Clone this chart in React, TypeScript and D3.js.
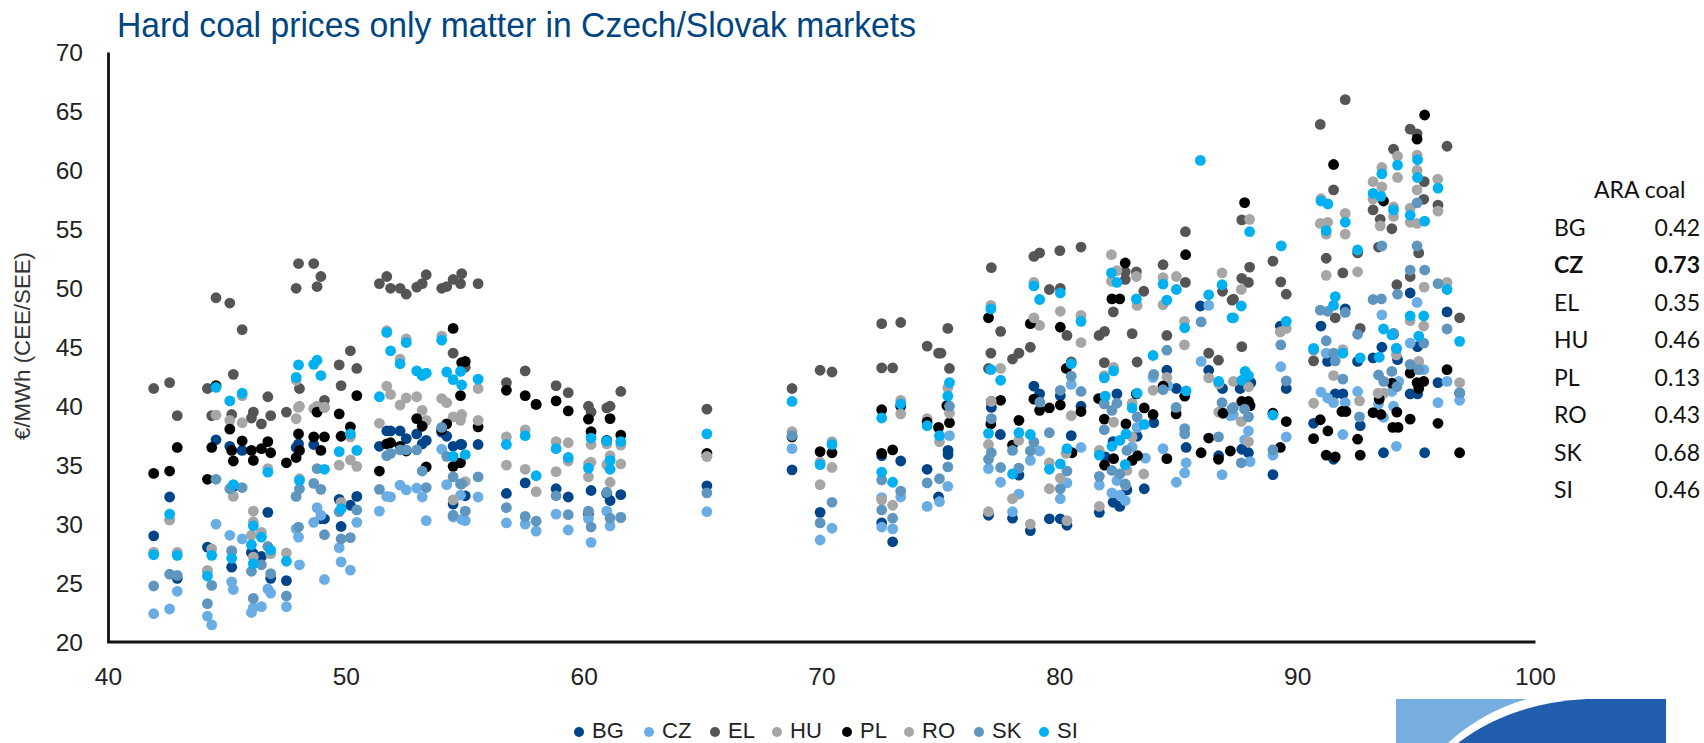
import React from "react";
import * as d3 from "d3";

const title = "Hard coal prices only matter in Czech/Slovak markets";
const yLabel = "€/MWh (CEE/SEE)";
const xTicks = [40, 50, 60, 70, 80, 90, 100];
const yTicks = [20, 25, 30, 35, 40, 45, 50, 55, 60, 65, 70];
const tableHeader = "ARA coal";
const tableNames = ["BG", "CZ", "EL", "HU", "PL", "RO", "SK", "SI"];
const tableValues = ["0.42", "0.73", "0.35", "0.46", "0.13", "0.43", "0.68", "0.46"];

const BG = [[41.9,29],[42.57,32.3],[42.89,25.4],[44.16,28.05],[44.52,37.15],[45.1,36.6],[45.18,26.35],[45.25,33.2],[45.62,36.25],[46.01,27.6],[46.09,27.5],[46.43,27.25],[46.7,31],[46.82,25.4],[47.48,25.2],[47.89,36.5],[47.99,36.8],[48.63,36.75],[48.93,30.45],[49.08,30.45],[49.7,32.1],[49.78,29.8],[50.17,31.6],[50.44,32.35],[51.39,36.6],[51.7,37.9],[51.86,37.9],[52.26,37.9],[52.52,37.25],[52.96,37.65],[53.19,36.8],[53.36,37.1],[54.01,37.8],[54.22,37.45],[54.49,36.6],[54.49,31.7],[54.8,36.75],[54.85,36.75],[55,32.4],[55.54,36.75],[56.73,32.6],[57.52,33.5],[58.82,33],[59.33,32.3],[60.18,30.85],[60.29,32.85],[60.95,32.6],[61.09,32],[61.54,32.5],[65.16,33.25],[68.74,34.6],[69.92,31],[72.51,35.8],[72.51,30.1],[72.97,28.5],[73.31,35.35],[74.42,34.65],[75.3,36.25],[75.3,35.9],[74.9,32.3],[77.12,39.9],[77,30.75],[77.5,37.6],[78.01,30.5],[78.28,34.15],[78.76,29.45],[78.91,41.7],[79.15,41.05],[79.56,30.45],[80.02,40.9],[80.02,30.45],[80.3,29.9],[80.89,40],[80.48,37.5],[81.66,31],[82.4,41.05],[81.91,35.7],[82.24,37],[82.24,31.85],[82.52,31.5],[82.82,32.9],[83.25,37.45],[83.55,33],[83.95,38.6],[84.5,43.05],[84.9,41.5],[85.31,36.5],[85.91,48.5],[86.26,43.05],[86.68,35.8],[86.84,41.5],[87.65,36.35],[87.93,36.05],[88.03,42],[87.58,41.5],[89.27,46.8],[89.52,41.5],[88.96,34.2],[90.67,38.55],[90.98,46.8],[91.26,43.8],[91.51,35.5],[91.58,41.05],[91.9,41.05],[92,48.25],[92.52,43.8],[92.63,38.35],[93.17,44.1],[93.54,45],[94.2,43.95],[94.03,46.1],[93.61,36.05],[94.73,49.6],[94.73,41.05],[95.04,41.05],[95.04,45.05],[95.9,42],[96.28,48],[95.34,36.05],[96.81,41.1]];

const CZ = [[41.9,22.4],[42.57,22.8],[42.89,24.3],[44.16,22.2],[44.34,21.45],[44.52,30],[45.1,29.05],[45.18,25.1],[45.25,24.45],[45.62,28.75],[46.01,22.5],[46.09,22.9],[46.43,23],[46.7,24.5],[46.82,24.15],[47.48,23],[47.89,29.6],[47.99,28.9],[48.03,26.55],[48.63,30.15],[48.77,31.4],[48.93,30.75],[49.08,25.3],[49.7,28],[49.78,26.8],[50.17,26.1],[50.44,30.15],[51.39,31.1],[51.7,32.35],[51.86,32.3],[52.26,33.3],[52.52,32.9],[52.96,33.05],[53.19,32.3],[53.36,30.3],[54.01,36.35],[54.22,33.35],[54.49,30.6],[54.8,32.45],[54.85,30.4],[55,30.3],[55.54,32.3],[56.73,30.1],[57.52,30],[57.98,29.4],[58.82,30.85],[59.33,29.5],[60.18,30.45],[60.29,28.45],[60.95,31.1],[61.09,29.85],[61.54,30.6],[65.16,31.05],[68.74,36.4],[69.92,28.65],[70.42,29.65],[72.51,32.25],[72.51,29.75],[72.97,29.6],[73.31,32.3],[74.42,31.5],[74.94,31.9],[75.36,37.5],[75.29,33.2],[77,34.7],[77.51,33.55],[78.01,31.05],[78.28,32.55],[78.76,35.4],[79.15,36.2],[80.02,32.15],[80.3,33.5],[80.48,41.85],[80.89,36.5],[81.66,33.3],[82.4,33.7],[82.19,32.65],[82.52,32.45],[82.75,32],[83.04,36.55],[83.6,35.6],[83.25,38.2],[83.92,42.45],[84.34,36.4],[84.54,41.75],[84.9,33.55],[85.25,34.35],[85.31,35.2],[85.94,43.8],[86.26,48.55],[86.82,34.2],[87.17,39.2],[87.93,37.9],[87.77,37.15],[87.3,39.25],[88,35.3],[89.29,43.35],[89.52,37.4],[88.96,35.85],[90.98,41.2],[91.26,40.7],[91.2,44.5],[91.51,40.3],[92,40.3],[91.9,37.6],[92.52,41.25],[93.4,40.2],[93.61,39.05],[93.54,47.75],[94.03,40],[94.25,42.1],[93.96,41.25],[94.15,36.6],[94.73,45.35],[95.02,48.8],[95.3,43.1],[96.28,42.1],[95.9,40.3],[96.81,40.5]];

const EL = [[41.9,41.5],[42.57,42],[42.89,39.2],[44.16,41.5],[44.34,39.2],[44.52,49.2],[45.1,48.75],[45.18,39.3],[45.25,42.7],[45.62,46.5],[46.01,39],[46.09,39.5],[46.43,38.5],[46.7,40.8],[46.82,39.2],[47.48,39.5],[47.89,50],[47.99,52.1],[48.03,41.5],[48.63,52.1],[48.77,50.15],[48.93,51],[49.08,40.5],[49.7,43.5],[49.78,41.75],[50.17,44.7],[50.44,43.2],[51.39,50.4],[51.7,51],[51.86,50],[52.26,50],[52.52,49.5],[52.96,50.1],[53.19,50.4],[53.36,51.15],[54.01,50],[54.22,50.15],[54.49,50.75],[54.49,44.5],[54.8,50.4],[54.85,51.25],[55,43.3],[55.54,50.4],[56.73,42],[57.52,43],[57.98,40.15],[58.82,41.75],[59.33,41.15],[60.18,40],[60.29,39.5],[60.95,39.85],[61.09,40],[61.54,41.25],[65.16,39.75],[68.74,41.5],[69.92,43.05],[70.42,42.9],[72.51,47],[72.51,43.25],[72.97,43.25],[73.31,47.1],[74.42,45.1],[75.29,46.6],[74.9,44.5],[75,44.5],[75.36,43.2],[77.12,51.75],[77.1,44.5],[77,43.2],[77.51,46.35],[78.01,44],[78.28,44.5],[78.76,45],[78.91,52.7],[79.15,53],[79.56,49.9],[80,53.2],[80.02,50],[80.3,46],[80.48,43.75],[80.89,53.5],[81.65,46],[81.88,46.35],[81.87,43.7],[82.25,48],[82.75,51.4],[82.75,50.75],[83.04,46.15],[83.22,51.4],[83.25,43.75],[83.53,49.75],[84.5,46],[84.34,52],[85.28,50.5],[85.28,54.8],[86.26,44.5],[86.67,43.9],[86.84,49.75],[87.24,49],[87.3,49.07],[87.65,50.85],[87.93,50.5],[87.98,51.8],[87.65,55.8],[87.65,45.05],[88.96,52.3],[89.29,50.55],[89.52,49.5],[90.95,63.9],[92,66],[91.51,58.35],[91.2,52.55],[91.9,51.3],[91.58,47.5],[90.67,43.85],[93.17,56.65],[93.47,55.85],[93.96,55.05],[94.03,61.8],[93.4,53.5],[92.52,53],[92.63,46.6],[94.73,63.5],[95.02,63.1],[94.73,51],[94.17,50.3],[95.32,59.05],[95.3,57.55],[95.9,57.05],[96.28,62.05],[95.09,53],[96.81,47.5]];

const HU = [[41.9,27.6],[42.57,30.35],[42.89,27.6],[44.16,26.05],[44.34,27.9],[44.52,39.25],[45.1,38.8],[45.18,27.75],[45.25,32.35],[45.62,40.9],[46.01,29.05],[46.09,31.1],[46.43,29.3],[46.7,34.7],[46.82,27.5],[47.48,27.55],[47.89,42.2],[47.99,39.9],[48.03,33.85],[48.63,39.8],[48.77,40],[49.08,39.9],[49.7,35],[49.78,31.85],[50.17,37.4],[50.44,34.9],[51.39,38.55],[51.7,46.4],[51.86,41],[52.26,44],[52.52,45.7],[52.96,40.8],[53.19,39.65],[53.36,38.8],[54.01,45.95],[54.22,40.3],[54.49,39.1],[54.8,38.8],[54.85,39.3],[55,33.6],[55.54,41.5],[56.73,37.4],[57.52,38],[57.98,32.75],[58.82,37],[59.33,36.9],[60.18,35.1],[60.29,36.75],[60.95,36.8],[61.09,35.8],[61.54,36.7],[65.16,35.75],[68.74,37.85],[69.92,35.25],[70.42,37],[72.51,32.05],[72.97,31.6],[73.31,40.5],[74.42,38.95],[75.29,41.55],[77.1,48.55],[77,36.75],[77.51,43.2],[78.01,32.15],[78.91,50.5],[79.15,46.85],[79.56,33],[80.02,33.9],[80.48,39.2],[80.89,45.4],[81.66,31.5],[81.87,42.6],[82.17,52.85],[82.17,50.6],[83.25,48.55],[83.04,40.25],[82.75,33.3],[83.04,37.4],[84.5,42.45],[84.34,48.6],[85.24,47.2],[86.26,42.4],[86.68,39.5],[87.63,49.9],[87.93,41.65],[87.93,37],[89.27,46.3],[90.67,40.25],[90.95,55.5],[91.2,54.6],[92,56.35],[92.52,51.4],[91.51,42.6],[93.17,59.05],[93.54,58.6],[94.03,56.1],[94.2,61.2],[94.03,56.9],[95.02,60],[94.73,56.8],[95.02,55.5],[95.9,56.55],[93.62,41.1],[94.73,47.25],[95.32,50.1],[95.09,43.8]];

const PL = [[41.9,34.3],[42.57,34.5],[42.89,36.5],[44.16,33.8],[44.34,36.5],[44.52,41.75],[45.1,38.05],[45.18,36.25],[45.25,35.35],[45.62,37.05],[46.01,36.25],[46.09,35.4],[46.43,36.4],[46.7,37],[46.82,36.05],[47.48,35.2],[47.89,35.65],[47.99,37.65],[48.03,36.25],[48.63,37.4],[48.77,39.5],[48.93,36.25],[49.08,37.4],[49.7,39.35],[49.78,37.45],[50.17,38.25],[50.44,40.9],[51.39,34.5],[51.7,36.8],[51.86,36.9],[52.26,36.6],[52.52,36.2],[52.96,38.95],[53.19,38.3],[53.36,34.85],[54.01,38],[54.22,38.5],[54.49,34.9],[54.49,46.6],[54.8,40.9],[54.8,35.2],[54.85,43.7],[55,43.8],[55.54,38.25],[56.73,41.35],[57.52,40.9],[57.98,40.15],[58.82,40.45],[59.33,39.6],[60.18,38.9],[60.29,37.85],[60.95,37.1],[61.09,38.95],[61.54,37.55],[65.16,36],[68.74,37.4],[69.92,36.15],[70.42,36.05],[72.51,39.7],[72.51,36],[72.97,36.3],[73.31,40],[74.42,38.65],[74.9,38.2],[75.36,38.6],[75.25,40.05],[77,47.5],[77.12,40.4],[77.1,38.5],[77.51,40.5],[78.01,36.7],[78.28,38.8],[78.76,47],[78.91,40.6],[79.15,39.65],[79.56,39.85],[80.02,46.7],[80.02,40.1],[80.27,43.2],[80.51,36.05],[80.89,39.55],[81.63,40.65],[81.87,38.9],[81.88,35],[82.19,49.1],[82.52,49.1],[82.75,52.15],[82.26,35.55],[82.78,38.5],[83.04,35.4],[83.27,35.8],[83.22,41.05],[83.55,39.85],[83.92,39.3],[84.34,41.7],[84.5,35.55],[84.89,39.35],[85.25,40.85],[85.29,52.85],[86.26,37.3],[85.94,36.05],[86.67,35.5],[86.86,39.4],[87.17,36.2],[87.77,57.27],[87.65,40.4],[87.93,40.4],[88,40.05],[88.96,39.4],[89.52,38.7],[89.27,36.5],[90.95,38.85],[91.27,37.9],[90.67,37.25],[91.2,35.85],[91.58,35.7],[91.51,60.5],[91.86,39.55],[92.03,39.55],[92.52,37.2],[92.63,35.85],[93.17,39.45],[93.5,39.3],[93.43,40.6],[93.61,57.4],[94.17,39.5],[93.96,41.95],[94,38.2],[94.22,38.2],[94.73,42.8],[94.73,38.9],[95.02,42],[95.09,41.5],[95.3,42.1],[95.34,64.7],[95.02,62.65],[95.9,38.55],[96.28,43.1],[96.81,36.05]];

const RO = [[41.9,27.6],[42.57,30.35],[44.16,26.05],[45.62,38.6],[46.09,30.2],[46.09,27.2],[47.89,38.95],[48.03,40],[49.08,39.9],[50.17,35.45],[51.7,41.7],[52.26,40.1],[52.52,40.7],[54.01,40.65],[54.49,32.05],[55.54,38.8],[56.73,35],[57.52,34.65],[58.82,34.45],[59.33,35.35],[60.18,34],[60.29,35.25],[60.95,35.05],[61.09,33.55],[61.54,35.1],[65.16,35.75],[69.92,33.35],[70.42,34.8],[73.31,39.35],[75.36,39.4],[74.94,37],[77.12,40.4],[77,31.05],[78.27,37.1],[78.76,30],[78.91,47.5],[79.56,35.2],[80.02,48.05],[80.3,30.3],[80.89,47.7],[80.26,36],[81.66,36.25],[82.26,43.3],[82.4,51.5],[83.22,51],[82.26,38.65],[82.82,34.55],[83.53,34.25],[83.92,41.35],[84.34,50.9],[84.9,51],[85.24,45.2],[86.82,51.3],[86.68,41.9],[87.98,55.85],[87.63,38.7],[87.3,42.1],[89.52,46.6],[90.98,57.6],[91.26,55.6],[91.2,51.1],[92,54.6],[91.9,44.8],[92.6,40.45],[93.54,60.25],[93.17,57.55],[93.47,55.3],[94.2,59.4],[95.02,61.3],[95.02,58.35],[94.73,55.6],[95.89,59.25],[93.38,41.1],[94.15,44.35],[95.3,46.8],[96.28,50.5],[96.81,42]];

const SK = [[41.9,24.75],[42.57,25.75],[42.89,25.65],[44.16,23.25],[44.34,24.8],[44.52,33.8],[45.1,33],[45.18,27.7],[45.62,33.1],[46.01,26],[46.09,23.7],[46.43,26.55],[46.7,28.1],[46.82,25.8],[47.48,23.9],[47.89,32.35],[47.99,29.75],[48.03,33],[48.63,33.45],[48.77,34.7],[48.93,32.95],[49.08,29.1],[49.7,31.05],[49.78,28.75],[50.17,28.85],[50.44,31.2],[51.39,32.95],[51.7,35.8],[51.86,36],[52.26,36.3],[52.52,36.3],[52.96,36.3],[53.19,34.5],[53.36,33.1],[54.01,38.2],[54.22,35.75],[54.49,34],[54.49,30.75],[54.8,33.4],[54.85,33.4],[55,31.1],[55.54,34],[56.73,31.4],[57.52,30.65],[57.98,30.25],[58.82,32.4],[59.33,30.8],[60.18,31.1],[60.29,29.75],[60.95,32.7],[61.09,30.5],[61.54,30.55],[65.16,32.65],[68.74,37.5],[69.92,30.1],[70.42,31.85],[72.51,33.75],[72.51,31.2],[72.97,30.5],[73.31,32.8],[74.42,33.5],[74.94,33.85],[75.36,40],[75.29,34.85],[77.12,38.95],[77.12,36.05],[77,35.5],[77.51,34.8],[78.01,36.25],[78.28,34.75],[78.91,36.95],[78.76,36.2],[79.16,40.35],[79.56,37.75],[80.02,41.35],[80.02,33],[80.3,34.5],[80.48,42.55],[80.89,41.25],[81.66,34.05],[81.87,38],[81.87,40.2],[82.4,40.25],[82.19,39.65],[82.19,34.55],[82.52,34.25],[82.82,36.25],[82.75,33.4],[83.25,39.1],[83.95,42.7],[84.34,41.4],[84.5,44.75],[84.89,39.9],[85.25,38.1],[85.25,37.65],[85.94,47.15],[86.67,37.4],[86.82,40.3],[87.24,39.8],[87.3,39.9],[87.77,39.75],[87.93,39.1],[87.63,35.2],[89.29,45.2],[89.52,42.15],[88.96,36.3],[90.67,44.75],[90.95,48.15],[91.26,48.05],[91.2,45.55],[91.51,44.5],[91.58,43.85],[92,47.95],[91.9,42.3],[92.52,46.1],[92.6,39.1],[93.17,49.05],[93.52,49.1],[93.54,53.6],[93.4,42.65],[93.62,42.1],[93.96,42.95],[94.17,41.65],[94.03,46.2],[94.2,49.5],[94.73,51.55],[95.34,51.55],[95.02,57.25],[95.02,53.6],[94.73,43.55],[95.09,43.1],[95.3,45.35],[95.9,50.4],[96.28,46.55],[96.81,41.15],[94.15,44.9]];

const SI = [[41.9,27.4],[42.57,30.85],[42.89,27.35],[44.16,25.6],[44.34,27.35],[44.52,41.6],[45.1,40.45],[45.18,27.1],[45.25,33.35],[45.62,41.1],[46.01,28.25],[46.09,29.85],[46.09,26.65],[46.43,28.9],[46.7,34.4],[46.82,27.8],[47.48,26.85],[47.89,42.45],[47.99,43.5],[48.03,33.7],[48.63,43.55],[48.77,43.9],[48.93,42.6],[49.08,34.65],[49.7,36.15],[49.78,31.3],[50.17,37.65],[50.44,36.25],[51.39,40.8],[51.7,46.25],[51.86,44.7],[52.26,43.6],[52.52,45.4],[52.96,43],[53.19,42.6],[53.36,42.8],[54.01,45.6],[54.22,42.9],[54.49,42.25],[54.49,35.75],[54.8,42.95],[54.85,41.8],[55,35.9],[55.54,42.3],[56.73,36.75],[57.52,37.5],[57.98,34.1],[58.82,36.4],[59.33,35.65],[60.18,34.75],[60.29,37.3],[60.95,37.05],[61.09,35.4],[61.09,34.65],[61.54,37],[65.16,37.65],[68.74,40.4],[69.92,35.05],[70.42,36.75],[72.51,39],[72.51,34.4],[72.97,33.55],[73.31,40.2],[74.42,38.35],[74.94,37.5],[75.36,42],[75.29,40.85],[77.1,48.25],[77.1,43.1],[77,37.7],[77.51,42.2],[78.01,34.25],[78.28,37.75],[78.76,37.6],[78.91,50.2],[79.15,49.05],[79.56,34.65],[80.02,49.6],[80.02,35.1],[80.48,43.6],[80.3,36.4],[80.89,47.2],[81.66,35.85],[81.91,40.85],[81.87,42.4],[82.26,43],[82.17,51.3],[82.4,50.5],[83.04,39.85],[83.22,49.1],[83.25,41.1],[82.19,36.6],[82.52,37.1],[82.78,37.65],[82.75,35.05],[83.55,38.45],[83.92,44.3],[84.34,50.35],[84.5,49],[84.9,49.9],[85.25,46.65],[85.31,41.3],[86.26,49.45],[86.68,42.1],[86.82,50.3],[87.24,47.5],[85.91,60.85],[87.98,54.8],[87.3,47.5],[87.63,48.5],[87.79,42.95],[87.65,42.2],[87.93,42.6],[89.31,53.6],[89.52,47.2],[88.96,39.25],[90.67,44.9],[90.98,57.4],[91.27,57.15],[91.2,54.9],[91.58,49.3],[91.51,48.55],[91.9,44.5],[92,55.6],[92.52,53.25],[92.63,44.1],[93.17,58.05],[93.54,59.7],[93.5,57.8],[94.03,56.65],[94.2,60.45],[93.43,44.15],[93.61,46.55],[93.96,46.05],[94.15,44.9],[94.73,56.2],[95.04,60.9],[95.04,59.4],[95.34,55.7],[95.9,58.5],[94.73,47.65],[95.3,47.65],[95.09,45.95],[96.28,49.9],[96.81,45.5]];

const seriesNames = ["BG", "CZ", "EL", "HU", "PL", "RO", "SK", "SI"];
const seriesData = [BG, CZ, EL, HU, PL, RO, SK, SI];
const seriesColors = ["#004489", "#6aade4", "#555555", "#a6a6a6", "#000000", "#a6a6a6", "#5f96c0", "#00b0f0"];
const legendDotX = [579, 649, 715, 777, 847, 909, 979, 1044];

const x = d3.scaleLinear().domain([40, 100]).range([108.5, 1535.5]);
const y = d3.scaleLinear().domain([20, 70]).range([642, 52.5]);

const sans = "'Liberation Sans', Arial, sans-serif";
const lato = "Lato, 'Open Sans', sans-serif";
const tableRowY = d3.scaleLinear().domain([0, 7]).range([236, 498]);

export default function App() {
  return (
    <svg width={1704} height={743} viewBox="0 0 1704 743" style={{ position: "absolute", left: 0, top: 0, background: "#fff" }}>
      <text x={117} y={37} fontFamily={sans} fontSize={34.5} fill="#00457f" textLength={799} lengthAdjust="spacingAndGlyphs">{title}</text>

      {seriesData.map((pts, i) => (
        <g key={seriesNames[i]} fill={seriesColors[i]}>
          {pts.map((p, j) => <circle key={j} cx={x(p[0])} cy={y(p[1])} r={5.4} />)}
        </g>
      ))}

      <path d={`M${x(40)},${y(70)}V${y(20)}H${x(100)}`} fill="none" stroke="#111" strokeWidth={2.8} />

      {yTicks.map(t => (
        <text key={t} x={83} y={y(t)} dy="0.36em" textAnchor="end" fontFamily={sans} fontSize={24.5} fill="#222">{t}</text>
      ))}
      {xTicks.map(t => (
        <text key={t} x={x(t)} y={685} textAnchor="middle" fontFamily={sans} fontSize={24.5} fill="#222">{t}</text>
      ))}
      <text transform="translate(30,346) rotate(-90)" textAnchor="middle" fontFamily={sans} fontSize={22.5} fill="#333" textLength={188} lengthAdjust="spacingAndGlyphs">{yLabel}</text>

      <text x={1594} y={198} fontFamily={lato} fontSize={23} fill="#111">{tableHeader}</text>
      {tableNames.map((n, i) => (
        <g key={n} fontFamily={lato} fontSize={23} fill="#111" fontWeight={n === "CZ" ? 700 : 400}>
          <text x={1554} y={tableRowY(i)}>{n}</text>
          <text x={1700} y={tableRowY(i)} textAnchor="end">{tableValues[i]}</text>
        </g>
      ))}

      {seriesNames.map((n, i) => (
        <g key={n}>
          <circle cx={legendDotX[i]} cy={732} r={5} fill={seriesColors[i]} />
          <text x={legendDotX[i] + 13} y={738} fontFamily={sans} fontSize={22} fill="#222">{n}</text>
        </g>
      ))}

      <rect x={1396} y={699} width={270} height={44} fill="#77aee0" />
      <path d="M1448,743 Q1482,712 1527,699 H1666 V743 Z" fill="#fff" />
      <path d="M1458,743 Q1510,703 1587,699 H1666 V743 Z" fill="#205ead" />
    </svg>
  );
}
